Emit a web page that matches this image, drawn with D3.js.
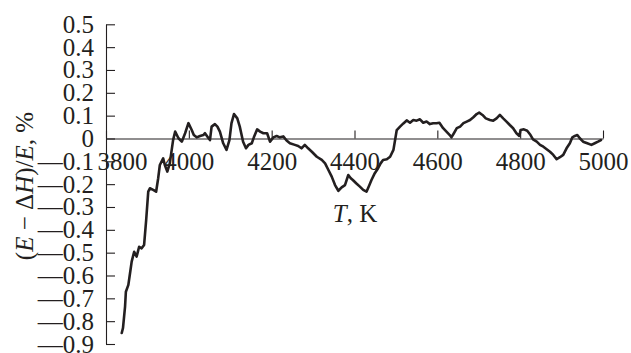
<!DOCTYPE html>
<html>
<head>
<meta charset="utf-8">
<script src="https://cdn.jsdelivr.net/npm/d3@7"></script>
<style>
  body { margin: 0; background: #fff; }
  text { font-family: "Liberation Serif", "Times New Roman", serif; fill: #231f20; }
</style>
</head>
<body>
<script>
// temperature, K
var tempK = [3838,3841,3846,3848,3854,3858,3862,3868,3874,3880,3886,3892,3897,3902,3906,3914,3921,3926,3930,3938,
  3942,3948,3954,3962,3967,3975,3983,3991,3999,4007,4012,4019,4027,4035,4039,4045,4051,4055,4063,4069,
  4075,4083,4091,4098,4103,4109,4117,4123,4131,4138,4144,4152,4157,4165,4172,4180,4189,4196,4204,4212,
  4220,4228,4236,4244,4256,4264,4272,4280,4288,4297,4309,4321,4329,4337,4345,4353,4361,4369,4377,4385,
  4391,4396,4404,4413,4421,4429,4436,4441,4449,4457,4463,4469,4478,4486,4494,4498,4502,4510,4518,4526,
  4534,4542,4550,4558,4566,4574,4582,4590,4598,4605,4614,4622,4630,4634,4640,4647,4655,4663,4671,4679,
  4687,4695,4701,4709,4717,4727,4735,4743,4751,4759,4767,4775,4783,4791,4798,4801,4809,4817,4825,4831,
  4840,4848,4856,4864,4872,4880,4888,4896,4904,4912,4920,4926,4932,4938,4944,4952,4962,4972,4980,4988,4995];

// (E - dH)/E, %
var deviation = [-0.852,-0.830,-0.736,-0.671,-0.641,-0.590,-0.539,-0.496,-0.517,-0.474,-0.481,-0.466,-0.357,-0.233,-0.218,-0.225,-0.233,-0.174,-0.116,-0.087,
  -0.116,-0.145,-0.109,-0.007,0.030,0.001,-0.014,0.023,0.067,0.037,0.015,0.005,0.011,0.015,0.023,0.008,-0.007,0.052,0.063,0.052,
  0.030,-0.021,-0.050,-0.007,0.067,0.107,0.088,0.052,-0.014,-0.043,-0.028,-0.021,0.005,0.040,0.030,0.023,0.023,-0.014,0.005,0.011,
  0.005,0.009,-0.009,-0.021,-0.028,-0.033,-0.043,-0.028,-0.043,-0.058,-0.080,-0.094,-0.109,-0.138,-0.167,-0.204,-0.229,-0.214,-0.204,-0.160,
  -0.174,-0.182,-0.196,-0.211,-0.225,-0.233,-0.204,-0.182,-0.152,-0.130,-0.109,-0.094,-0.091,-0.080,-0.050,-0.007,0.037,0.052,0.066,0.079,
  0.069,0.081,0.078,0.084,0.069,0.074,0.063,0.067,0.067,0.069,0.045,0.030,0.015,0.005,0.023,0.045,0.052,0.067,0.074,0.081,
  0.093,0.107,0.113,0.103,0.088,0.081,0.078,0.088,0.103,0.088,0.074,0.059,0.045,0.023,0.011,0.037,0.040,0.034,0.015,-0.004,
  -0.014,-0.028,-0.036,-0.047,-0.058,-0.072,-0.091,-0.082,-0.072,-0.043,-0.021,0.005,0.011,0.015,0.001,-0.014,-0.021,-0.028,-0.021,-0.014,-0.007];

var xTicks = [3800, 4000, 4200, 4400, 4600, 4800, 5000];
var yTicks = [0.5, 0.4, 0.3, 0.2, 0.1, 0, -0.1, -0.2, -0.3, -0.4, -0.5, -0.6, -0.7, -0.8, -0.9];

var width = 631, height = 353;
var svg = d3.select('body').append('svg').attr('width', width).attr('height', height);

var x = d3.scaleLinear().domain([3800, 5000]).range([106, 603]);
var y = d3.scaleLinear().domain([-0.9, 0.5]).range([344, 24.3]);

function fmt(v) {
    if (v === 0) return "0";
    var s = d3.format(".1f")(Math.abs(v));
    return v < 0 ? "\u2014" + s : s;
}

// y axis
var gy = svg.append("g")
    .attr("transform", "translate(106,0)")
    .call(d3.axisLeft(y).tickValues(yTicks).tickFormat(fmt).tickSizeInner(-9).tickSizeOuter(0).tickPadding(12));

// x axis on the zero line
var gx = svg.append("g")
    .attr("transform", "translate(0," + y(0) + ")")
    .call(d3.axisBottom(x).tickValues(xTicks).tickFormat(d3.format("d")).tickSizeInner(-8).tickSizeOuter(0).tickPadding(14));

svg.selectAll(".tick text").style("font-size", "25px").style("font-family", '"Liberation Serif", serif').attr("fill", "#231f20");
svg.selectAll(".domain, .tick line").attr("stroke", "#231f20").attr("stroke-width", 1.1);

// first x label sits to the right of the y axis
gx.selectAll(".tick text").filter(function (d) { return d === 3800; }).attr("dx", 16);

var pts = tempK.map(function (t, i) { return [t, deviation[i]]; });

var line = d3.line()
    .x(function (d) { return x(d[0]); })
    .y(function (d) { return y(d[1]); });

svg.append("path")
    .datum(pts)
    .attr("d", line)
    .attr("fill", "none")
    .attr("stroke", "#231f20")
    .attr("stroke-width", 2.6)
    .attr("stroke-linejoin", "round")
    .attr("stroke-linecap", "round");

// axis titles
var tl = svg.append("text")
    .attr("x", 355).attr("y", 222)
    .attr("text-anchor", "middle")
    .style("font-size", "25px");
tl.append("tspan").style("font-style", "italic").text("T");
tl.append("tspan").text(", K");

var yl = svg.append("text")
    .attr("transform", "translate(33,186) rotate(-90)")
    .attr("text-anchor", "middle")
    .style("font-size", "25px");
yl.append("tspan").text("(");
yl.append("tspan").style("font-style", "italic").text("E");
yl.append("tspan").text(" \u2212 \u0394");
yl.append("tspan").style("font-style", "italic").text("H");
yl.append("tspan").text(")/");
yl.append("tspan").style("font-style", "italic").text("E");
yl.append("tspan").text(", %");
</script>
</body>
</html>
